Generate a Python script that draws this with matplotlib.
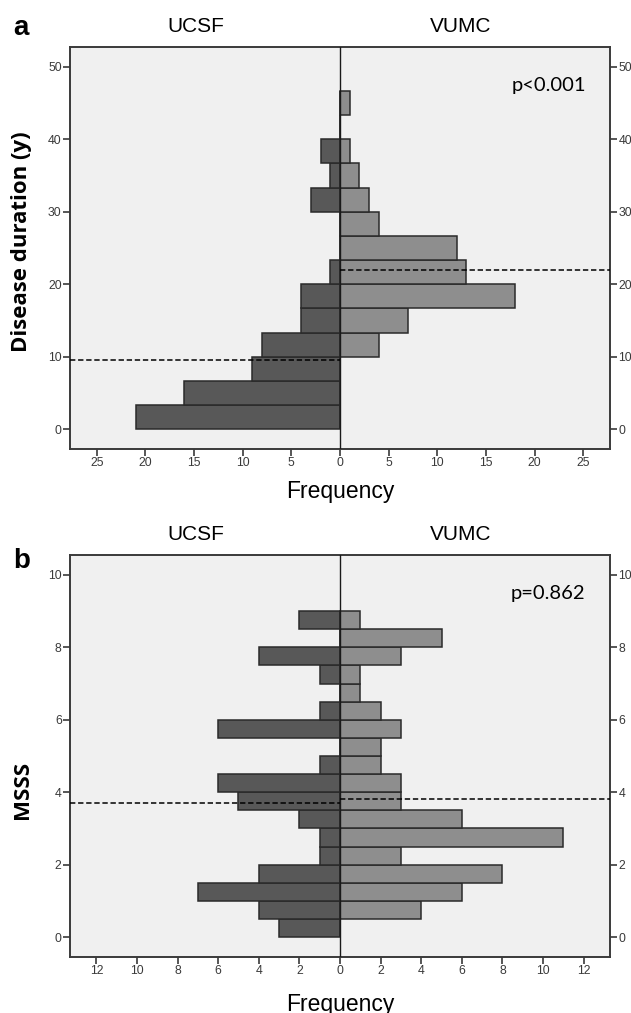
import numpy as np
import matplotlib
matplotlib.use('Agg')
import matplotlib.pyplot as plt

# panel a: disease duration (years), bins of 10/3 years starting at 0
dur_bin_w = 10 / 3
dur_starts = np.arange(14) * dur_bin_w
dur_ucsf = [21, 16, 9, 8, 4, 4, 1, 0, 0, 3, 1, 2, 0, 0]
dur_vumc = [0, 0, 0, 4, 7, 18, 13, 12, 4, 3, 2, 1, 0, 1]
dur_median_ucsf = 9.55
dur_median_vumc = 22.0
dur_xticks = [-25, -20, -15, -10, -5, 0, 5, 10, 15, 20, 25]
dur_yticks = [0, 10, 20, 30, 40, 50]

# panel b: MSSS, bins of 0.5 starting at 0
msss_bin_w = 0.5
msss_starts = np.arange(18) * msss_bin_w
msss_ucsf = [3, 4, 7, 4, 1, 1, 2, 5, 6, 1, 0, 6, 1, 0, 1, 4, 0, 2]
msss_vumc = [0, 4, 6, 8, 3, 11, 6, 3, 3, 2, 2, 3, 2, 1, 1, 3, 5, 1]
msss_median_ucsf = 3.70
msss_median_vumc = 3.82
msss_xticks = [-12, -10, -8, -6, -4, -2, 0, 2, 4, 6, 8, 10, 12]
msss_yticks = [0, 2, 4, 6, 8, 10]

DARK = '#585858'
LIGHT = '#8e8e8e'
EDGE = '#2a2a2a'
BG = '#f0f0f0'
TICK_FONT = ['Liberation Sans', 'DejaVu Sans']

W, H = 631, 1013


def draw_panel(ax, starts, width, ucsf, vumc, med_u, med_v, xlim, ylim,
               xticks, yticks, ptext):
    ax.set_facecolor(BG)
    ax.barh(starts, [-v for v in ucsf], height=width, align='edge',
            color=DARK, edgecolor=EDGE, linewidth=1.1, zorder=2)
    ax.barh(starts, vumc, height=width, align='edge',
            color=LIGHT, edgecolor=EDGE, linewidth=1.1, zorder=2)
    ax.axvline(0, color='#1a1a1a', linewidth=1.0, zorder=3)
    ax.hlines(med_u, -xlim, 0, colors='black', linestyles=(0, (3.5, 1.8)),
              linewidth=1.1, zorder=4)
    ax.hlines(med_v, 0, xlim, colors='black', linestyles=(0, (3.5, 1.8)),
              linewidth=1.1, zorder=4)
    ax.set_xlim(-xlim, xlim)
    ax.set_ylim(*ylim)
    ax.set_xticks(xticks)
    ax.set_xticklabels([str(abs(t)) for t in xticks])
    ax.set_yticks(yticks)
    ax.set_yticklabels([str(t) for t in yticks])
    ax.tick_params(axis='both', direction='out', length=5, width=1.2,
                   color='#3a3a3a', labelcolor='#3a3a3a', labelsize=8.8, pad=1)
    ax.tick_params(axis='y', right=True, labelright=True)
    for lab in ax.get_xticklabels() + ax.get_yticklabels():
        lab.set_family(TICK_FONT)
    for sp in ax.spines.values():
        sp.set_color('#3a3a3a')
        sp.set_linewidth(1.4)
    ax.text(0.955, 0.905, ptext, transform=ax.transAxes, ha='right', va='center',
            fontsize=14.5, family=['Lato', 'DejaVu Sans'])


fig = plt.figure(figsize=(W / 100, H / 100), dpi=100)
ax_a = fig.add_axes([70 / W, 1 - 449 / H, 540 / W, 402 / H])
ax_b = fig.add_axes([70 / W, 1 - 957 / H, 540 / W, 402 / H])

draw_panel(ax_a, dur_starts, dur_bin_w, dur_ucsf, dur_vumc,
           dur_median_ucsf, dur_median_vumc, 27.75, (-2.7, 52.7),
           dur_xticks, dur_yticks, 'p<0.001')
draw_panel(ax_b, msss_starts, msss_bin_w, msss_ucsf, msss_vumc,
           msss_median_ucsf, msss_median_vumc, 13.3, (-0.55, 10.55),
           msss_xticks, msss_yticks, 'p=0.862')

lab_font = ['Liberation Sans', 'DejaVu Sans']
bold_font = ['Open Sans', 'DejaVu Sans']

# panel letters and group labels
fig.text(21 / W, 1 - 28 / H, 'a', fontsize=20, fontweight='bold',
         family=lab_font, ha='center', va='center')
fig.text(22 / W, 1 - 561 / H, 'b', fontsize=20, fontweight='bold',
         family=lab_font, ha='center', va='center')
for yc in (27, 535):
    fig.text(196 / W, 1 - yc / H, 'UCSF', fontsize=15, family=lab_font,
             ha='center', va='center')
    fig.text(461 / W, 1 - yc / H, 'VUMC', fontsize=15, family=lab_font,
             ha='center', va='center')

fig.text(340 / W, 1 - 491 / H, 'Frequency', fontsize=16.5, family=lab_font,
         ha='center', va='center')
fig.text(340 / W, 1 - 1004 / H, 'Frequency', fontsize=16.5, family=lab_font,
         ha='center', va='center')

fig.text(22 / W, 1 - 242 / H, 'Disease duration (y)', fontsize=16,
         fontweight='bold', family=bold_font, rotation=90,
         ha='center', va='center')
fig.text(22 / W, 1 - 790 / H, 'MSSS', fontsize=16, fontweight='bold',
         family=bold_font, rotation=90, ha='center', va='center')

fig.savefig('out.png', dpi=100, facecolor='white')
